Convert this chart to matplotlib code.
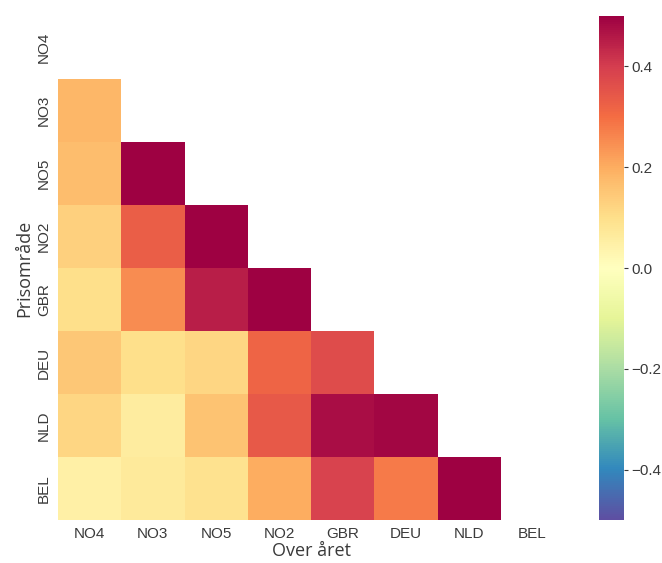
import numpy as np
import matplotlib
matplotlib.use("Agg")
import matplotlib.pyplot as plt

labels = ["NO4", "NO3", "NO5", "NO2", "GBR", "DEU", "NLD", "BEL"]
row_NO4 = []
row_NO3 = [0.18]
row_NO5 = [0.17, 0.52]
row_NO2 = [0.13, 0.33, 0.52]
row_GBR = [0.10, 0.25, 0.45, 0.52]
row_DEU = [0.15, 0.10, 0.12, 0.32, 0.37]
row_NLD = [0.12, 0.06, 0.16, 0.34, 0.48, 0.49]
row_BEL = [0.05, 0.07, 0.09, 0.20, 0.39, 0.28, 0.51]
rows = [row_NO4, row_NO3, row_NO5, row_NO2, row_GBR, row_DEU, row_NLD, row_BEL]

n = len(labels)
M = np.full((n, n), np.nan)
for i, r in enumerate(rows):
    M[i, :len(r)] = r
Mm = np.ma.masked_invalid(M)

W, H = 662, 563
fig = plt.figure(figsize=(W / 100, H / 100), dpi=100)
ax = fig.add_axes([58 / W, (H - 520) / H, 506 / W, 504 / H])
cax = fig.add_axes([599 / W, (H - 520) / H, 25 / W, 504 / H])

cmap = plt.get_cmap("Spectral_r")
mesh = ax.pcolormesh(np.arange(n + 1), np.arange(n + 1), Mm, cmap=cmap,
                     vmin=-0.5, vmax=0.5)
ax.set_xlim(0, n)
ax.set_ylim(n, 0)
for s in ax.spines.values():
    s.set_visible(False)

tc = "#3a3a3a"
ax.set_xticks(np.arange(n) + 0.5)
ax.set_xticklabels(labels, fontsize=11, color=tc, family="Liberation Sans")
ax.set_yticks(np.arange(n) + 0.5)
ax.set_yticklabels(labels, fontsize=11, color=tc, family="Liberation Sans",
                   rotation=90, va="center")
ax.tick_params(length=0, pad=5)
ax.set_xlabel("Over året", fontsize=13, color=tc, family="Open Sans", labelpad=1)
ax.set_ylabel("Prisområde", fontsize=13, color=tc, family="Open Sans", labelpad=3)

cb = fig.colorbar(mesh, cax=cax)
cb.outline.set_visible(False)
cb.set_ticks([-0.4, -0.2, 0.0, 0.2, 0.4])
cb.ax.tick_params(labelsize=11, colors=tc, length=3, width=0.8, pad=2)
for t in cb.ax.get_yticklabels():
    t.set_family("Liberation Sans")

fig.savefig("out.png", dpi=100)
